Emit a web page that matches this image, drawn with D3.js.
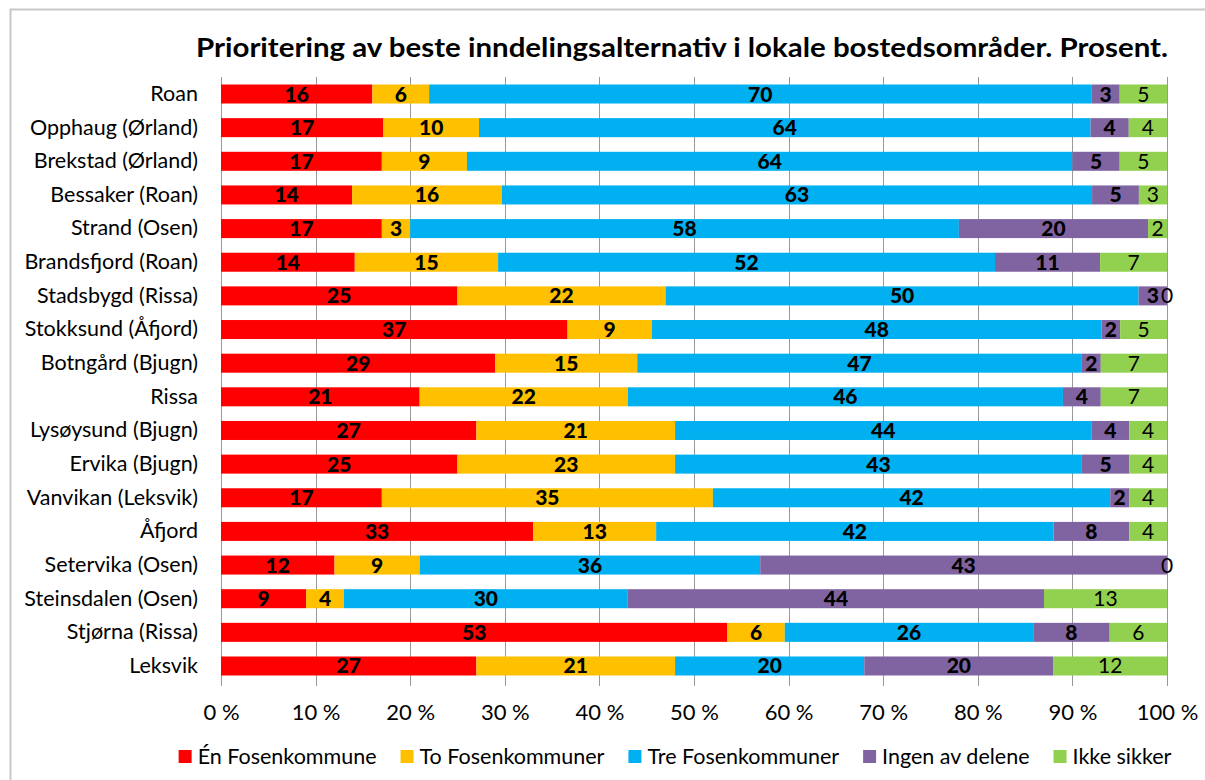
<!DOCTYPE html>
<html>
<head>
<meta charset="utf-8">
<script src="https://cdn.jsdelivr.net/npm/d3@7"></script>
<style>
  body { margin: 0; background: #fff; overflow: hidden; }
  svg { display: block; font-family: Lato, "Open Sans", sans-serif; }
</style>
</head>
<body>
<div class="chart"></div>
<script>
const categories = [
  "Roan", "Opphaug (Ørland)", "Brekstad (Ørland)", "Bessaker (Roan)", "Strand (Osen)",
  "Brandsfjord (Roan)", "Stadsbygd (Rissa)", "Stokksund (Åfjord)", "Botngård (Bjugn)", "Rissa",
  "Lysøysund (Bjugn)", "Ervika (Bjugn)", "Vanvikan (Leksvik)", "Åfjord", "Setervika (Osen)",
  "Steinsdalen (Osen)", "Stjørna (Rissa)", "Leksvik"
]
const seriesNames = ["Én Fosenkommune", "To Fosenkommuner", "Tre Fosenkommuner", "Ingen av delene", "Ikke sikker"]
const enFosen   = [16, 17, 17, 14, 17, 14, 25, 37, 29, 21, 27, 25, 17, 33, 12, 9, 53, 27]
const toFosen   = [6, 10, 9, 16, 3, 15, 22, 9, 15, 22, 21, 23, 35, 13, 9, 4, 6, 21]
const treFosen  = [70, 64, 64, 63, 58, 52, 50, 48, 47, 46, 44, 43, 42, 42, 36, 30, 26, 20]
const ingen     = [3, 4, 5, 5, 20, 11, 3, 2, 2, 4, 4, 5, 2, 8, 43, 44, 8, 20]
const ikkeSikker = [5, 4, 5, 3, 2, 7, 0, 5, 7, 7, 4, 4, 4, 4, 0, 13, 6, 12]
const tickLabels = ["0 %", "10 %", "20 %", "30 %", "40 %", "50 %", "60 %", "70 %", "80 %", "90 %", "100 %"]

const colors = ["#ff0000", "#ffc000", "#00b0f0", "#8064a2", "#92d050"]
const values = [enFosen, toFosen, treFosen, ingen, ikkeSikker]

const width = 1205
const height = 780

const svg = d3.select(".chart").append("svg")
  .attr("width", width)
  .attr("height", height)

// outer frame (only left and top edges are inside the picture)
svg.append("path")
  .attr("d", "M10.5," + height + "V9.5H" + width)
  .attr("fill", "none")
  .attr("stroke", "#c8c8c8")
  .attr("stroke-width", 2)

svg.append("text")
  .attr("x", 682).attr("y", 57)
  .attr("text-anchor", "middle")
  .attr("font-size", 26)
  .attr("font-weight", "bold")
  .attr("textLength", 972)
  .attr("lengthAdjust", "spacingAndGlyphs")
  .text("Prioritering av beste inndelingsalternativ i lokale bostedsområder. Prosent.")

const x = d3.scaleLinear().domain([0, 1]).range([221, 1167])
const y = d3.scaleBand().domain(categories).range([77, 683])
  .paddingInner(0.435).paddingOuter(0.223)

// gridlines
svg.append("g")
  .selectAll("line")
  .data(d3.range(0, 1.01, 0.1))
  .join("line")
  .attr("x1", d => Math.round(x(d)) + 0.5)
  .attr("x2", d => Math.round(x(d)) + 0.5)
  .attr("y1", 77).attr("y2", 686)
  .attr("stroke", "#999")
  .attr("stroke-width", 1)

// build stacked rows, normalized to 100 %
const rows = categories.map((c, i) => {
  const vals = values.map(s => s[i])
  const total = d3.sum(vals)
  let acc = 0
  return vals.map((v, k) => {
    const seg = { cat: c, k: k, v: v, x0: acc / total, x1: (acc + v) / total }
    acc += v
    return seg
  })
})
const segs = rows.flat()

svg.append("g")
  .selectAll("rect")
  .data(segs)
  .join("rect")
  .attr("x", d => x(d.x0))
  .attr("y", d => y(d.cat))
  .attr("width", d => x(d.x1) - x(d.x0))
  .attr("height", y.bandwidth())
  .attr("fill", d => colors[d.k])

svg.append("g")
  .selectAll("text")
  .data(segs)
  .join("text")
  .attr("x", d => x((d.x0 + d.x1) / 2))
  .attr("y", d => y(d.cat) + y.bandwidth() / 2 + 7.5)
  .attr("text-anchor", "middle")
  .attr("font-size", 21)
  .attr("font-weight", d => d.k === 4 ? "normal" : "900")
  .attr("fill", "#000")
  .text(d => d.v)

// category axis
const yAxis = svg.append("g")
  .attr("transform", "translate(221,0)")
  .call(d3.axisLeft(y).tickSize(0).tickPadding(23))
yAxis.select(".domain").remove()
yAxis.selectAll("text")
  .attr("font-size", 21.5)
  .attr("font-family", "Lato, sans-serif")
  .attr("fill", "#000")

// percent axis
const xAxis = svg.append("g")
  .attr("transform", "translate(0,686)")
  .call(d3.axisBottom(x).tickValues(d3.range(0, 1.01, 0.1))
    .tickFormat((d, i) => tickLabels[i]).tickSize(0).tickPadding(18))
xAxis.select(".domain").remove()
xAxis.selectAll("text")
  .attr("font-size", 22)
  .attr("font-family", "Lato, sans-serif")
  .attr("fill", "#000")

// legend
const legend = svg.append("g")
let lx = 0
seriesNames.forEach((name, i) => {
  const item = legend.append("g").attr("transform", "translate(" + lx + ",0)")
  item.append("rect")
    .attr("x", 0).attr("y", -6)
    .attr("width", 13).attr("height", 13)
    .attr("fill", colors[i])
  const t = item.append("text")
    .attr("x", 19).attr("y", 7.5)
    .attr("font-size", 21.5)
    .text(name)
  lx += 19 + t.node().getComputedTextLength() + 24
})
const legendWidth = lx - 24
legend.attr("transform", "translate(" + (675 - legendWidth / 2) + ",756)")
</script>
</body>
</html>
